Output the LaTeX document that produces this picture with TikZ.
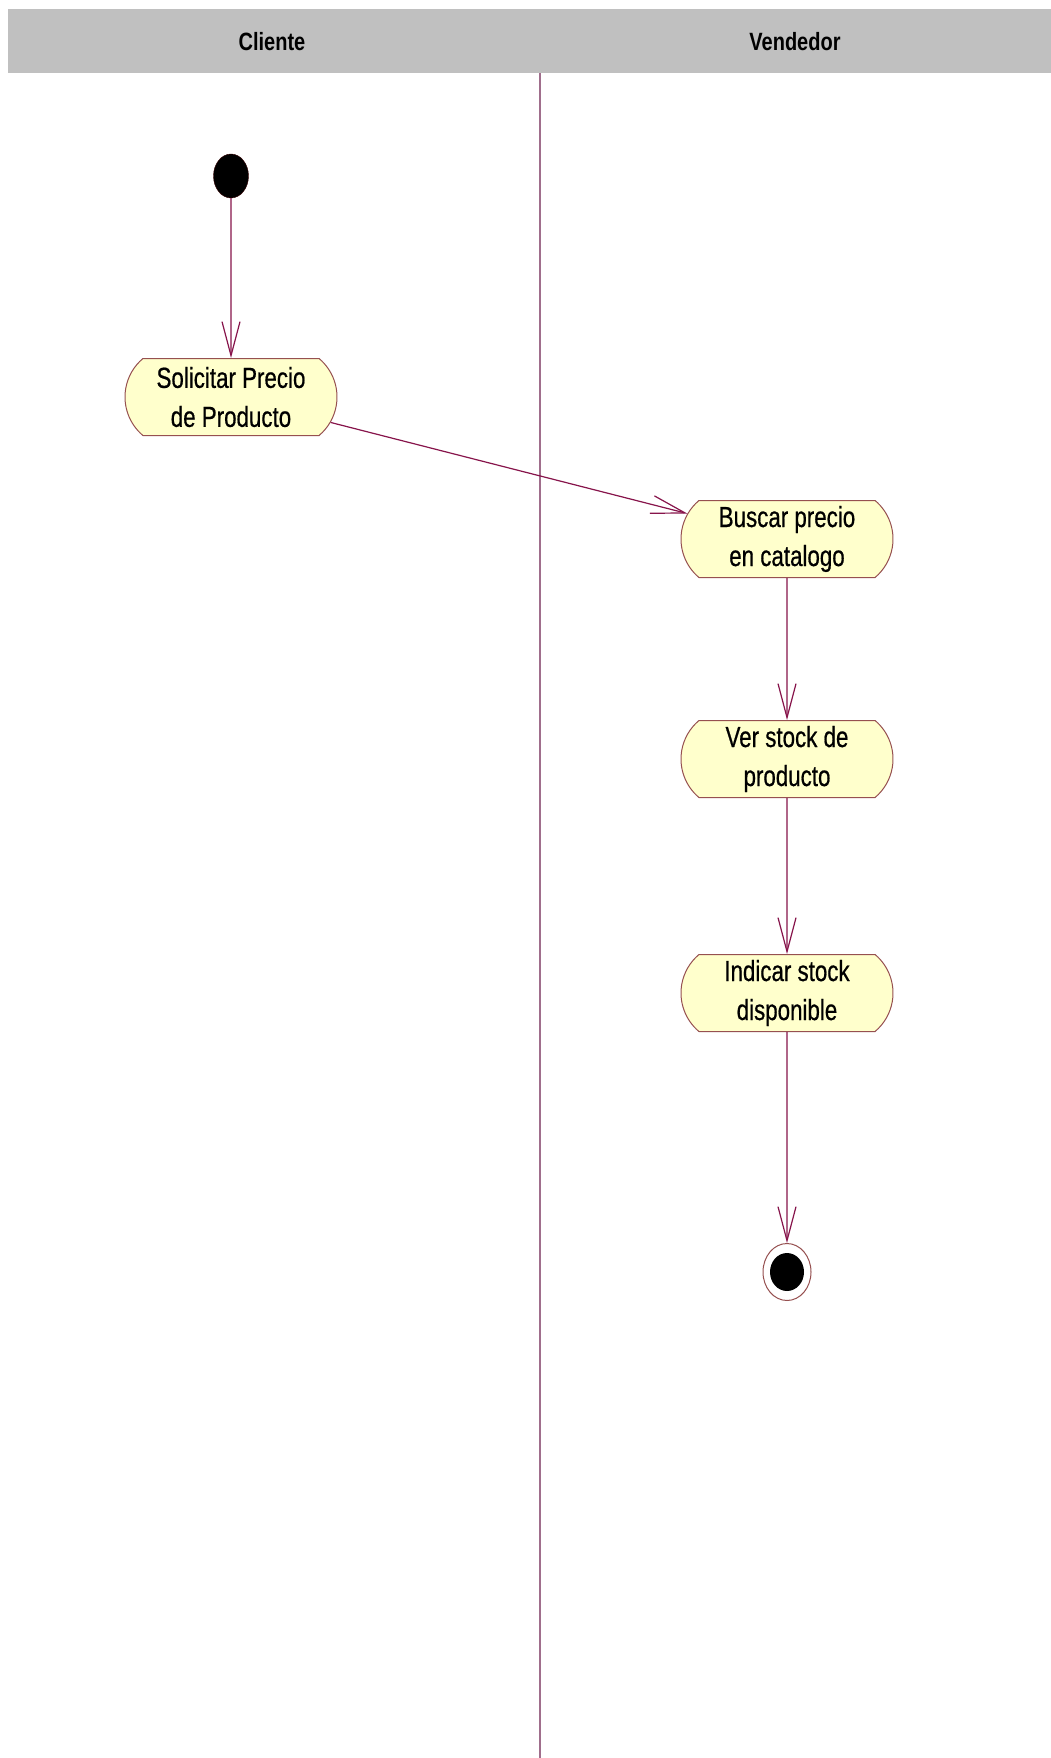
\documentclass[tikz,border=0pt]{standalone}
\usepackage{fontspec}
\newfontfamily\actfont[FakeStretch=0.77,FakeBold=0.6]{Liberation Sans}
\newfontfamily\lanefont[FakeStretch=0.8]{Liberation Sans}
\usetikzlibrary{shapes.misc,shapes.geometric,arrows.meta}
\definecolor{lanegray}{RGB}{192,192,192}
\definecolor{lanediv}{RGB}{160,110,140}
\definecolor{flow}{RGB}{135,20,75}
\definecolor{actfill}{RGB}{255,255,204}
\definecolor{actborder}{RGB}{150,80,80}
\tikzset{
  lanetitle/.style={font=\lanefont\bfseries\fontsize{25}{30}\selectfont, text=black},
  activity/.style={rounded rectangle, rounded rectangle arc length=100,
    draw=actborder, line width=1pt, fill=actfill,
    minimum width=212pt, minimum height=77pt, inner sep=0pt,
    align=center, font=\actfont\fontsize{29}{39}\selectfont, text=black},
  initial/.style={ellipse, fill=black, draw=black!80!red, minimum width=35pt,
    minimum height=44pt, inner sep=0pt},
  finalring/.style={ellipse, draw=actborder, line width=1pt, fill=white,
    minimum width=48pt, minimum height=57pt, inner sep=0pt},
  finaldot/.style={ellipse, fill=black, minimum width=34pt,
    minimum height=38pt, inner sep=0pt},
  flowline/.style={draw=flow, line width=1.2pt,
    -{Straight Barb[length=34pt,width=18pt,line width=1.2pt]}}
}
\begin{document}
\begin{tikzpicture}[x=1pt,y=-1pt]
  % page
  \fill[white] (0,0) rectangle (1051,1758);
  \useasboundingbox (0,0) rectangle (1051,1758);

  % swimlane header and divider
  \fill[lanegray] (8,9) rectangle (1051,73);
  \node[lanetitle] (cliente) at (272,42) {Cliente};
  \node[lanetitle] (vendedor) at (795,42) {Vendedor};
  \draw[lanediv, line width=1.5pt] (540,73) -- (540,1758);

  % states and activities
  \node[initial] (start) at (231,176) {};
  \node[activity] (solicitar) at (231,397) {Solicitar Precio\\de Producto};
  \node[activity] (buscar) at (787,539) {Buscar precio\\en catalogo};
  \node[activity] (ver) at (787,759) {Ver stock de\\producto};
  \node[activity] (indicar) at (787,993) {Indicar stock\\disponible};
  \node[finalring] (fin) at (787,1272) {};
  \node[finaldot] (findot) at (fin.center) {};

  % transitions
  \draw[flowline] (start) -- (solicitar);
  \draw[flowline] (solicitar) -- (buscar);
  \draw[flowline] (buscar) -- (ver);
  \draw[flowline] (ver) -- (indicar);
  \draw[flowline] (indicar) -- (fin);
\end{tikzpicture}
\end{document}
